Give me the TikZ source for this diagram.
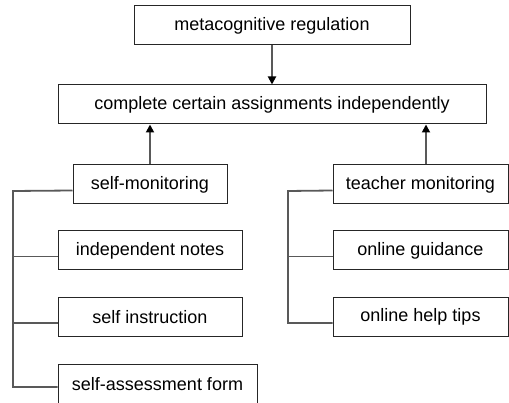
\documentclass[tikz,border=0pt]{standalone}
\usepackage{fontspec}
\setmainfont{Liberation Sans}
\usetikzlibrary{arrows.meta}
\tikzstyle{box} = [rectangle, draw=black!85, line width=1pt, minimum height=39pt, inner sep=0pt, text centered, font=\fontsize{18}{21}\selectfont]
\tikzstyle{line} = [draw=black!65, line width=1.8pt]
\tikzstyle{arrow} = [line, -{Triangle[width=8pt,length=8pt,color=black]}]

\begin{document}
\begin{tikzpicture}[x=1pt, y=-1pt]
        \useasboundingbox (0,0) rectangle (509,403);
        \node (meta) [box, minimum width=276pt] at (272,25.5) {metacognitive regulation};
        \node (complete) [box, minimum width=428pt] at (272,104.5) {complete certain assignments independently};
        \node (selfmon) [box, minimum width=154pt] at (150,184.5) {self-monitoring};
        \node (notes) [box, minimum width=184pt] at (150,250.5) {independent notes};
        \node (instr) [box, minimum width=184pt] at (150,317) {self instruction};
        \node (assess) [box, minimum width=199pt] at (157.5,384) {self-assessment form};
        \node (teacher) [box, minimum width=175pt] at (420.5,184.5) {teacher monitoring};
        \node (guide) [box, minimum width=175pt] at (420.5,250.5) {online guidance};
        \node (tips) [box, minimum width=175pt] at (420.5,317) {online help tips};
        \coordinate (lbus) at (13,191);
        \coordinate (rbus) at (288,191);

        \draw [arrow] (meta) -- (complete);
        \draw [arrow] (selfmon.north) -- (selfmon.north |- complete.south);
        \draw [arrow] ([xshift=5.5pt]teacher.north) coordinate (tn) -- (tn |- complete.south);

        \draw [line] ([yshift=-6pt]selfmon.west) -- (lbus) |- ([yshift=-3pt]assess.west);
        \draw [line] ([yshift=-6pt]notes.west) coordinate (nw) -- (nw -| lbus);
        \draw [line] ([yshift=-6pt]instr.west) coordinate (iw) -- (iw -| lbus);
        \draw [line] ([yshift=-6pt]teacher.west) -- (rbus) |- ([yshift=-6pt]tips.west);
        \draw [line] ([yshift=-6pt]guide.west) coordinate (gw) -- (gw -| rbus);
    \end{tikzpicture}
\end{document}
